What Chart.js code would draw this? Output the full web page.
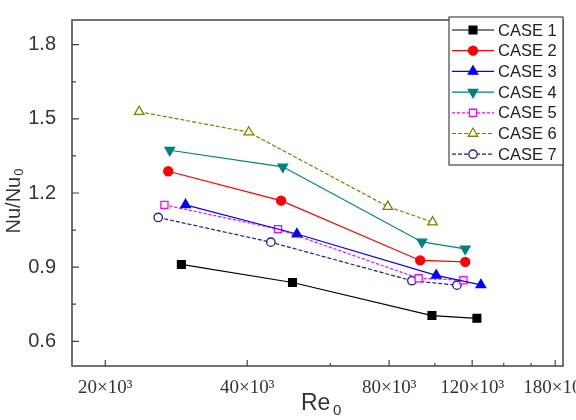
<!DOCTYPE html>
<html>
<head>
<meta charset="utf-8">
<script src="https://cdn.jsdelivr.net/npm/chart.js@4.4.1/dist/chart.umd.min.js"></script>
<style>
  html, body { margin: 0; padding: 0; background: #fff; }
  #wrap { width: 576px; height: 420px; }
</style>
</head>
<body>
<div id="wrap"><canvas id="nuChart" width="576" height="420"></canvas></div>
<script>
// Re0 values and Nu/Nu0 for each case
const caseNames = ['CASE 1', 'CASE 2', 'CASE 3', 'CASE 4', 'CASE 5', 'CASE 6', 'CASE 7'];

const re1 = [29000, 49900, 98600, 122800];
const nu1 = [0.911, 0.838, 0.704, 0.693];

const re2 = [27200, 47200, 93100, 116000];
const nu2 = [1.288, 1.169, 0.927, 0.921];

const re3 = [29600, 51000, 100700, 125200];
const nu3 = [1.152, 1.034, 0.867, 0.828];

const re4 = [27400, 47600, 93900, 116000];
const nu4 = [1.373, 1.306, 1.002, 0.974];

const re5 = [26700, 46500, 92400, 115000];
const nu5 = [1.152, 1.054, 0.855, 0.847];

const re6 = [23600, 40300, 79500, 98900];
const nu6 = [1.529, 1.446, 1.145, 1.082];

const re7 = [25900, 44900, 89400, 111400];
const nu7 = [1.101, 1.001, 0.845, 0.827];

// axis ticks
const xTicks = [20000, 40000, 80000, 120000, 180000];
const xMinor = [60000, 100000, 140000, 160000];
const yTicks = [0.6, 0.9, 1.2, 1.5, 1.8];
const yMinor = [0.75, 1.05, 1.35, 1.65];

function toPoints(xs, ys) {
    return xs.map((x, i) => ({ x: x, y: ys[i] }));
}

// styles per case
const colors = ['#000000', '#ff0000', '#0000ff', '#008080', '#ff00ff', '#808000', '#1c1c8c'];
const shapes = ['rect', 'circle', 'triangle', 'triangle', 'rect', 'triangle', 'circle'];
const rotations = [0, 0, 0, 180, 0, 0, 0];
const filled = [true, true, true, true, false, false, false];
const dashes = [[], [], [], [], [3, 2], [4, 2], [4, 2]];
const radii = [5.5, 4.5, 5.5, 5.5, 5, 5.5, 4.2];

const allRe = [re1, re2, re3, re4, re5, re6, re7];
const allNu = [nu1, nu2, nu3, nu4, nu5, nu6, nu7];

const datasets = caseNames.map((name, i) => ({
    label: name,
    data: toPoints(allRe[i], allNu[i]),
    borderColor: colors[i],
    backgroundColor: colors[i],
    borderWidth: 1.2,
    borderDash: dashes[i],
    pointStyle: shapes[i],
    rotation: rotations[i],
    pointRadius: radii[i],
    pointBorderWidth: 1.3,
    pointBorderColor: colors[i],
    pointBackgroundColor: filled[i] ? colors[i] : '#ffffff',
    fill: false,
    tension: 0
}));

// frame, inward ticks, axis titles and legend
const framePlugin = {
    id: 'frame',
    afterDraw(chart) {
        const ctx = chart.ctx;
        const a = chart.chartArea;
        const xs = chart.scales.x;
        const ys = chart.scales.y;
        ctx.save();
        ctx.strokeStyle = '#444';
        ctx.lineWidth = 1.5;
        ctx.setLineDash([]);
        ctx.strokeRect(a.left, a.top, a.right - a.left, a.bottom - a.top);

        ctx.lineWidth = 1.2;
        ctx.beginPath();
        xTicks.forEach(v => {
            const px = xs.getPixelForValue(v);
            ctx.moveTo(px, a.bottom); ctx.lineTo(px, a.bottom - 6);
        });
        xMinor.forEach(v => {
            const px = xs.getPixelForValue(v);
            ctx.moveTo(px, a.bottom); ctx.lineTo(px, a.bottom - 3);
        });
        yTicks.forEach(v => {
            const py = ys.getPixelForValue(v);
            ctx.moveTo(a.left, py); ctx.lineTo(a.left + 7, py);
        });
        yMinor.forEach(v => {
            const py = ys.getPixelForValue(v);
            ctx.moveTo(a.left, py); ctx.lineTo(a.left + 4, py);
        });
        ctx.stroke();

        // axis titles
        ctx.fillStyle = '#333';
        ctx.textBaseline = 'alphabetic';
        ctx.font = '23px "Liberation Sans", Arial, sans-serif';
        ctx.textAlign = 'left';
        ctx.fillText('Re', 301, 410);
        ctx.font = '15px "Liberation Sans", Arial, sans-serif';
        ctx.fillText('0', 333, 415);

        ctx.save();
        ctx.translate(20, 201);
        ctx.rotate(-Math.PI / 2);
        ctx.font = '20px "Liberation Sans", Arial, sans-serif';
        const w1 = ctx.measureText('Nu/Nu').width;
        ctx.font = '13px "Liberation Sans", Arial, sans-serif';
        const w2 = ctx.measureText('0').width;
        const start = -(w1 + w2 + 1) / 2;
        ctx.font = '20px "Liberation Sans", Arial, sans-serif';
        ctx.fillText('Nu/Nu', start, 0);
        ctx.font = '13px "Liberation Sans", Arial, sans-serif';
        ctx.fillText('0', start + w1 + 1, 3);
        ctx.restore();

        // legend box
        const lx = 449, ly = 17, lw = 114, lh = 148;
        ctx.fillStyle = '#fff';
        ctx.fillRect(lx, ly, lw, lh);
        ctx.strokeStyle = '#444';
        ctx.lineWidth = 1.2;
        ctx.strokeRect(lx, ly, lw, lh);
        chart.data.datasets.forEach((ds, i) => {
            const y = 30 + i * 20.7;
            ctx.strokeStyle = ds.borderColor;
            ctx.lineWidth = 1.2;
            ctx.setLineDash(ds.borderDash);
            ctx.beginPath();
            ctx.moveTo(452, y); ctx.lineTo(494, y);
            ctx.stroke();
            ctx.setLineDash([]);
            ctx.fillStyle = ds.pointBackgroundColor;
            ctx.strokeStyle = ds.pointBorderColor;
            ctx.lineWidth = 1.3;
            Chart.helpers.drawPoint(ctx, {
                pointStyle: ds.pointStyle,
                rotation: ds.rotation,
                radius: ds.pointRadius,
                borderWidth: 1.3
            }, 473, y);
            ctx.fillStyle = '#222';
            ctx.font = '16.5px "Liberation Sans", Arial, sans-serif';
            ctx.textAlign = 'left';
            ctx.textBaseline = 'middle';
            ctx.fillText(ds.label, 498, y + 1);
        });
        ctx.restore();
    }
};

const ctx = document.getElementById('nuChart').getContext('2d');
const nuChart = new Chart(ctx, {
    type: 'line',
    data: { datasets: datasets },
    options: {
        responsive: false,
        animation: false,
        layout: { padding: { left: 0, right: 13, top: 17, bottom: 0 } },
        plugins: {
            legend: { display: false },
            tooltip: { enabled: false }
        },
        scales: {
            x: {
                type: 'logarithmic',
                min: 17000,
                max: 187000,
                grid: { display: false },
                border: { display: false },
                afterBuildTicks: scale => {
                    scale.ticks = xTicks.map(v => ({ value: v }));
                },
                afterFit: scale => {
                    scale.height = 54;
                    scale.paddingLeft = 0;
                    scale.paddingRight = 0;
                },
                ticks: {
                    autoSkip: false,
                    maxRotation: 0,
                    padding: 3,
                    color: '#333',
                    font: { family: '"Liberation Serif", "Times New Roman", serif', size: 19 },
                    callback: v => (v / 1000) + '×10³'
                }
            },
            y: {
                min: 0.5,
                max: 1.9,
                grid: { display: false },
                border: { display: false },
                afterBuildTicks: scale => {
                    scale.ticks = yTicks.map(v => ({ value: v }));
                },
                afterFit: scale => {
                    scale.width = 72;
                },
                ticks: {
                    padding: 8,
                    color: '#333',
                    font: { family: '"Liberation Sans", Arial, sans-serif', size: 20 },
                    callback: v => v.toFixed(1)
                }
            }
        }
    },
    plugins: [framePlugin]
});
</script>
</body>
</html>
